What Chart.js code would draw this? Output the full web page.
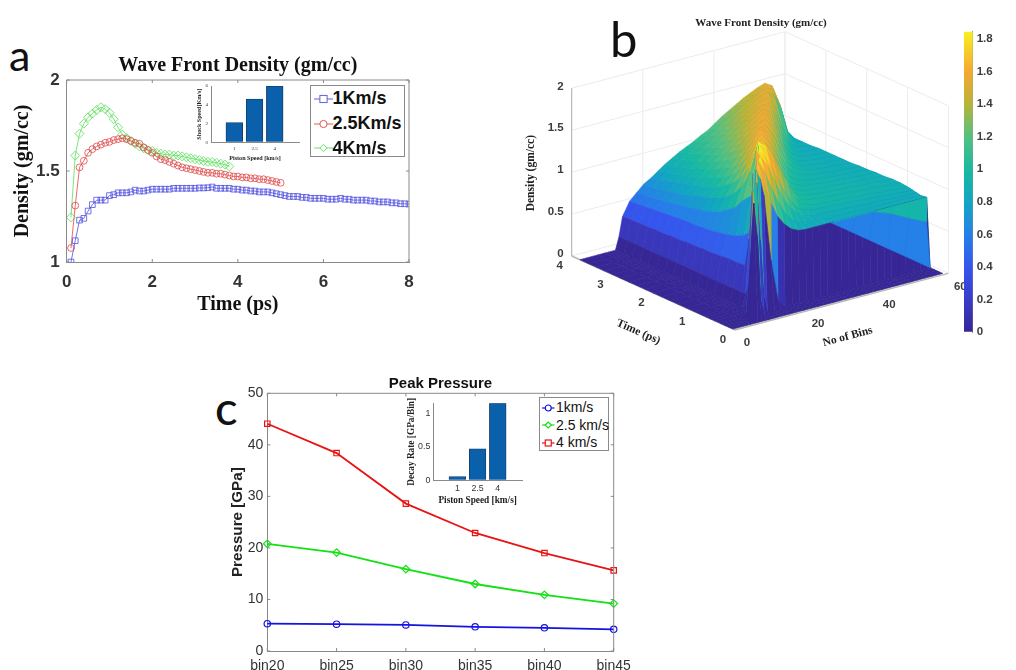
<!DOCTYPE html>
<html>
<head>
<meta charset="utf-8">
<title>Wave front density and peak pressure</title>
<script src="https://cdn.jsdelivr.net/npm/chart.js@4/dist/chart.umd.min.js"></script>
<style>
  html, body { margin: 0; padding: 0; background: #fff; }
  #page { position: relative; width: 1016px; height: 670px; overflow: hidden; }
  .box { position: absolute; }
  .box canvas { filter: blur(0.4px); }
  .letter { position: absolute; font-family: Lato, sans-serif; color: #111; line-height: 1; }
  .legend { position: absolute; background: #fff; border: 1px solid #8a8a8a; box-sizing: border-box; }
  .legend div { position: absolute; white-space: nowrap; color: #111; font-family: "Liberation Sans", sans-serif; }
  .legend svg { position: absolute; overflow: visible; }
</style>
</head>
<body>
<div id="page">
  <div class="letter" style="left:9px;top:33px;font-size:43px">a</div>
  <div class="letter" style="left:610px;top:14px;font-size:49px">b</div>
  <div class="letter" style="left:215px;top:384px;font-size:47px;font-weight:500">c</div>

  <div class="box" style="left:0;top:45px"><canvas id="chartA" width="430" height="285"></canvas></div>
  <div class="legend" id="legendA" style="left:310px;top:85px;width:95px;height:72px"></div>
  <div class="box" style="left:180px;top:80px"><canvas id="insetA" width="130" height="90"></canvas></div>

  <div class="box" style="left:510px;top:0"><canvas id="surface" width="470" height="370"></canvas></div>
  <div class="box" style="left:950px;top:20px"><canvas id="colorbar" width="66" height="325"></canvas></div>

  <div class="box" style="left:200px;top:370px"><canvas id="chartC" width="450" height="300"></canvas></div>
  <div class="legend" id="legendC" style="left:539px;top:397px;width:70px;height:54px"></div>
  <div class="box" style="left:395px;top:395px"><canvas id="insetC" width="140" height="115"></canvas></div>
</div>

<script>
// panel a
const timeA = [0.1,0.2,0.3,0.4,0.5,0.6,0.7,0.8,0.9,1.0,1.1,1.2,1.3,1.4,1.5,1.6,1.7,1.8,1.9,2.0,
  2.1,2.2,2.3,2.4,2.5,2.6,2.7,2.8,2.9,3.0,3.1,3.2,3.3,3.4,3.5,3.6,3.7,3.8,3.9,4.0,
  4.1,4.2,4.3,4.4,4.5,4.6,4.7,4.8,4.9,5.0,5.1,5.2,5.3,5.4,5.5,5.6,5.7,5.8,5.9,6.0,
  6.1,6.2,6.3,6.4,6.5,6.6,6.7,6.8,6.9,7.0,7.1,7.2,7.3,7.4,7.5,7.6,7.7,7.8,7.9,8.0]
const density1 = [1.0,1.117,1.23,1.24,1.28,1.315,1.34,1.34,1.34,1.365,1.37,1.38,1.38,1.38,1.385,1.395,1.39,1.39,1.395,1.4,
  1.4,1.4,1.4,1.4,1.405,1.405,1.405,1.405,1.405,1.405,1.407,1.407,1.408,1.412,1.405,1.405,1.405,1.405,1.4,1.4,
  1.395,1.395,1.39,1.39,1.385,1.385,1.385,1.38,1.375,1.37,1.365,1.36,1.36,1.36,1.355,1.355,1.35,1.35,1.35,1.35,
  1.345,1.345,1.345,1.35,1.345,1.345,1.34,1.34,1.34,1.34,1.335,1.335,1.33,1.33,1.33,1.325,1.325,1.32,1.32,1.318]
const density25 = [1.077,1.31,1.52,1.556,1.6,1.62,1.635,1.645,1.655,1.66,1.67,1.675,1.68,1.675,1.665,1.655,1.65,1.63,1.615,1.6,
  1.58,1.565,1.56,1.55,1.54,1.53,1.52,1.515,1.51,1.505,1.5,1.495,1.49,1.49,1.485,1.485,1.48,1.475,1.47,1.47,
  1.465,1.465,1.46,1.46,1.455,1.455,1.45,1.445,1.44,1.435]
const density4 = [1.245,1.585,1.705,1.76,1.795,1.815,1.835,1.85,1.84,1.82,1.785,1.74,1.7,1.68,1.665,1.65,1.635,1.625,1.615,1.61,
  1.6,1.595,1.59,1.59,1.585,1.585,1.58,1.575,1.57,1.565,1.56,1.555,1.55,1.55,1.545,1.54,1.535,1.525]
const shockSpeeds = ["1", "2.5", "4"]
const shockValues = [2.1, 4.6, 6]

// panel b, density per time row (back to front) and bin column
const surfaceBins = [0,5,7,8,9,10,11,12,14,16,18,20,22,24,26,28,30,32,34,36,38,40,42,44,46,48,50,52,54,56,58,59]
const surfaceTimes = [3.8,3.6,3.4,3.2,3.0,2.8,2.6,2.4,2.2,2.0,1.8,1.6,1.4,1.2,1.0,0.8,0.7,0.6,0.5,0.36,0.34,0.25,0.15,0.05]
const surfaceDensity = [
  [0,0,0,0,0,0,.15,.38,.54,.62,.70,.75,.81,.87,.92,.97,1.01,1.05,1.10,1.14,1.20,1.26,1.31,1.36,1.41,1.45,1.49,1.52,1.47,1.15,.83,0],
  [0,0,0,0,0,0,.15,.385,.55,.63,.70,.77,.84,.89,.95,1.0,1.05,1.09,1.14,1.19,1.24,1.29,1.34,1.39,1.43,1.48,1.52,1.50,1.28,.95,.84,0],
  [0,0,0,0,0,0,.15,.39,.56,.64,.72,.80,.87,.92,.98,1.04,1.08,1.13,1.19,1.24,1.29,1.35,1.40,1.45,1.50,1.54,1.50,1.30,.98,.86,.84,0],
  [0,0,0,0,0,0,.15,.39,.57,.66,.74,.83,.89,.95,1.01,1.07,1.13,1.18,1.24,1.30,1.36,1.41,1.47,1.52,1.55,1.42,1.15,.94,.87,.85,.84,0],
  [0,0,0,0,0,0,.15,.40,.58,.68,.77,.86,.92,1.0,1.05,1.11,1.17,1.24,1.30,1.36,1.42,1.48,1.54,1.54,1.38,1.12,.95,.88,.86,.85,.85,0],
  [0,0,0,0,0,0,.15,.40,.59,.70,.79,.89,.95,1.03,1.09,1.16,1.23,1.30,1.36,1.43,1.50,1.56,1.52,1.32,1.08,.95,.89,.87,.86,.85,.85,0],
  [0,0,0,0,0,0,.15,.41,.60,.72,.83,.92,1.0,1.07,1.15,1.23,1.30,1.37,1.45,1.52,1.58,1.50,1.28,1.06,.95,.90,.88,.87,.86,.86,.85,0],
  [0,0,0,0,0,0,.15,.41,.61,.74,.86,.95,1.04,1.13,1.21,1.29,1.37,1.45,1.53,1.58,1.48,1.28,1.08,.97,.91,.89,.88,.87,.86,.86,.85,0],
  [0,0,0,0,0,0,.15,.42,.61,.76,.89,.99,1.09,1.18,1.28,1.37,1.47,1.55,1.57,1.45,1.25,1.07,.98,.93,.9,.89,.88,.87,.87,.86,.85,0],
  [0,0,0,0,0,0,.15,.42,.62,.79,.93,1.06,1.16,1.27,1.38,1.49,1.6,1.56,1.4,1.2,1.05,.98,.94,.91,.9,.89,.88,.87,.87,.86,.86,0],
  [0,0,0,0,0,0,.15,.43,.63,.83,.99,1.13,1.26,1.39,1.52,1.62,1.54,1.38,1.18,1.03,.97,.94,.92,.91,.9,.89,.88,.88,.87,.87,.86,0],
  [0,0,0,0,0,0,.15,.43,.65,.9,1.07,1.24,1.40,1.56,1.63,1.52,1.35,1.15,1.02,.97,.94,.93,.92,.91,.9,.9,.89,.88,.88,.87,.87,0],
  [0,0,0,0,0,0,.15,.44,.67,.97,1.2,1.4,1.61,1.64,1.5,1.32,1.14,1.02,.97,.95,.94,.93,.92,.92,.91,.9,.9,.89,.88,.88,.87,0],
  [0,0,0,0,0,0,.15,.45,.7,1.1,1.42,1.74,1.68,1.52,1.36,1.18,1.05,.98,.96,.95,.94,.93,.93,.92,.92,.91,.9,.9,.89,.88,.88,0],
  [0,0,0,0,0,0,.15,.45,.75,1.2,1.82,1.75,1.6,1.42,1.25,1.1,1.0,.97,.96,.95,.94,.94,.93,.93,.92,.91,.91,.9,.89,.88,.88,0],
  [0,0,0,0,0,0,.15,.46,.85,1.85,1.78,1.62,1.45,1.28,1.12,1.02,.98,.96,.95,.95,.94,.94,.93,.92,.92,.91,.9,.9,.89,.88,.87,0],
  [0,0,0,0,0,0,.15,.8,1.83,1.75,1.6,1.42,1.25,1.1,1.0,.96,.94,.94,.93,.93,.92,.92,.91,.9,.9,.89,.88,.87,.87,.86,.86,0],
  [0,0,0,0,0,.05,.3,1.6,1.78,1.65,1.45,1.25,1.1,1.0,.93,.91,.9,.9,.9,.89,.89,.88,.88,.87,.87,.87,.86,.86,.85,.85,.85,0],
  [0,0,0,0,0,.1,1.2,1.79,1.62,1.4,1.2,1.05,.95,.9,.87,.87,.87,.86,.86,.86,.86,.86,.85,.85,.85,.85,.85,.85,.85,.84,.84,0],
  [0,0,0,0,.9,1.72,1.65,1.55,1.3,1.1,.98,.9,.86,.85,.85,.85,.85,.85,.85,.85,.85,.85,.85,.85,.85,.85,.85,.85,.85,.85,.85,0],
  [0,0,0,0,.8,1.7,1.6,1.4,.6,.1,0,0,0,0,0,0,0,0,0,0,0,0,0,0,0,0,0,0,0,0,0,0],
  [0,0,.1,1.5,1.6,.9,.2,0,0,0,0,0,0,0,0,0,0,0,0,0,0,0,0,0,0,0,0,0,0,0,0,0],
  [0,0,1.4,1.0,.2,0,0,0,0,0,0,0,0,0,0,0,0,0,0,0,0,0,0,0,0,0,0,0,0,0,0,0],
  [0,0,0,0,0,0,0,0,0,0,0,0,0,0,0,0,0,0,0,0,0,0,0,0,0,0,0,0,0,0,0,0]
]
// end wall on the right of the surface, painted just after the step row
const wallAfterRow = 20
const wallBins = [58,53,48,43,38,34,32]
const wallBaseTimes = [0.36,0.97,1.4,1.84,2.28,2.62,2.8]
const wallMidDensity = [.56,.66,.77,.85,.85,.85,.85]
const wallEdgeTime = 0.36
const wallTopDensity = 0.85
const wallLowerValue = 0.6
const wallUpperValue = 0.95

const surfaceTimeTicks = [0,1,2,3,4]
const surfaceBinTicks = [0,20,40,60]
const surfaceDensityTicks = [0,0.5,1,1.5,2]
const colorbarMax = 1.845

// panel c
const binLabels = ["bin20","bin25","bin30","bin35","bin40","bin45"]
const pressure1 = [5.3,5.2,5.05,4.7,4.5,4.2]
const pressure25 = [20.8,19.1,15.9,13.0,10.9,9.2]
const pressure4 = [44.1,38.4,28.6,22.9,19.0,15.65]
const decaySpeeds = ["1", "2.5", "4"]
const decayValues = [0.055, 0.47, 1.15]

const legendRowsA = [
  { text: "1Km/s", color: "#5050e0", shape: "square" },
  { text: "2.5Km/s", color: "#e04848", shape: "circle" },
  { text: "4Km/s", color: "#58e058", shape: "diamond" }
]
const legendRowsC = [
  { text: "1km/s", color: "#1414e0", shape: "circle" },
  { text: "2.5 km/s", color: "#14e014", shape: "diamond" },
  { text: "4 km/s", color: "#e81414", shape: "square" }
]

Chart.defaults.animation = false
Chart.defaults.responsive = false
Chart.defaults.events = []
Chart.defaults.plugins.legend.display = false
Chart.defaults.plugins.tooltip.enabled = false

const SERIF = "'Liberation Serif', serif"
const SANS = "'Liberation Sans', sans-serif"
const GREY = "#8a8a8a"

// top and right edges of the box, plus short inner ticks
const boxFrame = {
  id: "boxFrame",
  afterDraw(chart, args, opts) {
    if (!opts.on) return
    const { ctx, chartArea: a, scales } = chart
    ctx.save()
    ctx.strokeStyle = GREY
    ctx.lineWidth = 1
    ctx.beginPath()
    ctx.moveTo(a.left, a.top); ctx.lineTo(a.right, a.top); ctx.lineTo(a.right, a.bottom)
    scales.x.ticks.forEach((t, i) => {
      const x = scales.x.getPixelForTick(i)
      ctx.moveTo(x, a.bottom); ctx.lineTo(x, a.bottom - 3)
      ctx.moveTo(x, a.top); ctx.lineTo(x, a.top + 3)
    })
    scales.y.ticks.forEach((t, i) => {
      const y = scales.y.getPixelForTick(i)
      ctx.moveTo(a.left, y); ctx.lineTo(a.left + 3, y)
      ctx.moveTo(a.right, y); ctx.lineTo(a.right - 3, y)
    })
    ctx.stroke()
    ctx.restore()
  }
}
Chart.register(boxFrame)

function toPoints(xs, ys) {
  return ys.map((y, i) => ({ x: xs[i], y: y }))
}

// ---- panel a ----
function seriesA(values, color, style, radius) {
  return { data: toPoints(timeA, values), borderColor: color, borderWidth: 0.8, backgroundColor: "transparent",
    pointStyle: style, pointRadius: radius, pointBorderColor: color, pointBorderWidth: 0.8, pointBackgroundColor: "transparent" }
}
new Chart(document.getElementById("chartA"), {
  type: "line",
  data: { datasets: [
    seriesA(density1, "#5050e0", "rect", 4),
    seriesA(density25, "#e04848", "circle", 3.4),
    seriesA(density4, "#58e058", "rectRot", 4.5)
  ] },
  options: {
    layout: { padding: { right: 21 } },
    plugins: {
      boxFrame: { on: true },
      title: { display: true, fullSize: false, text: "Wave Front Density (gm/cc)", color: "#111",
        font: { family: SERIF, size: 20, weight: "bold" }, padding: { top: 9, bottom: 2 } }
    },
    scales: {
      x: { type: "linear", min: 0, max: 8, afterFit: s => { s.height = 68 },
        border: { color: GREY }, grid: { drawOnChartArea: false, drawTicks: false },
        ticks: { stepSize: 2, maxRotation: 0, padding: 10, color: "#333", font: { family: SANS, size: 17, weight: "bold" } },
        title: { display: true, text: "Time (ps)", color: "#111", font: { family: SERIF, size: 20, weight: "bold" }, padding: { top: 0, bottom: 13 } } },
      y: { type: "linear", min: 1, max: 2, afterFit: s => { s.width = 66.7 },
        border: { color: GREY }, grid: { drawOnChartArea: false, drawTicks: false },
        ticks: { stepSize: 0.5, padding: 7, color: "#333", font: { family: SANS, size: 17, weight: "bold" }, callback: v => String(v) },
        title: { display: true, text: "Density (gm/cc)", color: "#111", font: { family: SERIF, size: 20, weight: "bold" }, padding: { top: 11, bottom: 0 } } }
    }
  }
})

function insetBars(id, names, values, o) {
  new Chart(document.getElementById(id), {
    type: "bar",
    data: { datasets: [{ data: values.map((v, i) => ({ x: i, y: v })), backgroundColor: "#0b60ab", borderColor: "#17385c",
      borderWidth: 0.8, barThickness: 16.7 }] },
    options: {
      layout: { padding: { right: o.right } },
      scales: {
        x: { type: "linear", offset: false, min: o.xMin, max: o.xMax, afterFit: s => { s.height = o.bottom },
          afterBuildTicks: s => { s.ticks = names.map((n, i) => ({ value: i })) },
          border: { color: GREY }, grid: { drawOnChartArea: false, drawTicks: false },
          ticks: { maxRotation: 0, padding: o.tickPad, color: "#333", font: { family: o.tickFamily, size: o.tickSize }, callback: v => names[v] },
          title: { display: true, text: "Piston Speed [km/s]", color: "#222", font: { family: SERIF, size: o.titleSize, weight: "bold" }, padding: { top: 0, bottom: o.titleBottom } } },
        y: { type: "linear", min: 0, max: o.yMax, afterFit: s => { s.width = o.left },
          border: { color: GREY }, grid: { drawOnChartArea: false, drawTicks: false },
          ticks: { stepSize: o.yStep, includeBounds: false, padding: 3, color: "#333", font: { family: o.tickFamily, size: o.tickSize }, callback: v => String(v) },
          title: { display: true, text: o.yTitle, color: "#222", font: { family: SERIF, size: o.titleSize, weight: "bold" }, padding: { top: o.titleLeft, bottom: 0 } } }
      }
    }
  })
}
insetBars("insetA", shockSpeeds, shockValues, { left: 31, right: 11, bottom: 27.7, xMin: -1.153, xMax: 3.2, yMax: 6, yStep: 2,
  tickSize: 5, tickPad: 3, tickFamily: SERIF, titleSize: 6.1, titleBottom: 8, titleLeft: 16, yTitle: "Shock Speed[Km/s]" })

// ---- panel b ----
const densityStops = [
  [0, [54,38,150]], [0.2, [58,60,200]], [0.4, [53,86,238]], [0.6, [37,128,232]], [0.8, [17,166,195]],
  [1.0, [24,186,160]], [1.2, [85,192,128]], [1.4, [184,180,56]], [1.6, [245,168,50]], [1.845, [248,240,32]]
]
function densityColor(v) {
  let i = 0
  while (i < densityStops.length - 2 && v > densityStops[i + 1][0]) i++
  const [a, ca] = densityStops[i], [b, cb] = densityStops[i + 1]
  const k = Math.max(0, Math.min(1, (v - a) / (b - a)))
  return "rgb(" + ca.map((c, j) => Math.round(c + (cb[j] - c) * k)).join(",") + ")"
}

// view of the box, chart units per bin / per ps / per gm/cc
function project(bin, time, dens) {
  return { x: 225 + bin * 3.556 - time * 40.83, y: 330 - bin * 0.944 - time * 18.5 - dens * 83.83 }
}

function addLine(list, corners, color, width) {
  list.push({ data: corners.map(p => project(p[0], p[1], p[2])), borderColor: color, borderWidth: width,
    fill: false, showLine: true, pointRadius: 0, clip: false, tension: 0 })
}
function addQuad(list, corners, value) {
  const c = densityColor(value)
  const pts = corners.concat([corners[0]]).map(p => project(p[0], p[1], p[2]))
  list.push({ data: pts, backgroundColor: c, borderColor: c, borderWidth: 0.6,
    fill: "shape", showLine: true, pointRadius: 0, clip: false, tension: 0 })
}

const layers = []
// box walls
const wallGrey = "#ececec"
surfaceDensityTicks.forEach(z => {
  addLine(layers, [[0,4,z],[60,4,z],[60,0,z]], wallGrey, 1)
})
surfaceBinTicks.forEach(b => addLine(layers, [[b,4,0],[b,4,2]], wallGrey, 1))
surfaceTimeTicks.forEach(t => addLine(layers, [[60,t,0],[60,t,2]], wallGrey, 1))
addLine(layers, [[0,4,0],[0,4,2]], "#b0b0b0", 1)
addLine(layers, [[0,4,0],[0,0,0],[60,0,0]], "#b8b8b0", 1.4)

// surface, back row first, far bins first in each row; a cell takes the colour of its lowest time and bin corner
for (let r = 0; r < surfaceTimes.length - 1; r++) {
  const far = surfaceDensity[r], near = surfaceDensity[r + 1]
  for (let c = surfaceBins.length - 2; c >= 0; c--) {
    addQuad(layers, [
      [surfaceBins[c], surfaceTimes[r], far[c]],
      [surfaceBins[c + 1], surfaceTimes[r], far[c + 1]],
      [surfaceBins[c + 1], surfaceTimes[r + 1], near[c + 1]],
      [surfaceBins[c], surfaceTimes[r + 1], near[c]]
    ], near[c])
  }
  addLine(layers, surfaceBins.map((b, i) => [b, surfaceTimes[r + 1], near[i]]), "rgba(25,45,70,0.25)", 0.7)
  if (r + 1 === wallAfterRow) {
    for (let i = 0; i < wallBins.length - 1; i++) {
      addQuad(layers, [[59,wallBaseTimes[i],0],[59,wallBaseTimes[i+1],0],[wallBins[i+1],wallEdgeTime,wallMidDensity[i+1]],[wallBins[i],wallEdgeTime,wallMidDensity[i]]], wallLowerValue)
      addQuad(layers, [[wallBins[i],wallEdgeTime,wallMidDensity[i]],[wallBins[i+1],wallEdgeTime,wallMidDensity[i+1]],[wallBins[i+1],wallEdgeTime,wallTopDensity],[wallBins[i],wallEdgeTime,wallTopDensity]], wallUpperValue)
    }
  }
}

// labels for the box, placed from the same projection
const surfaceLabels = {
  id: "surfaceLabels",
  afterDraw(chart) {
    const { ctx, scales } = chart
    function put(text, p, dx, dy, font, color, angle, align) {
      const q = project(p[0], p[1], p[2])
      ctx.save()
      ctx.translate(scales.x.getPixelForValue(q.x) + dx, scales.y.getPixelForValue(q.y) + dy)
      ctx.rotate((angle || 0) * Math.PI / 180)
      ctx.font = font
      ctx.fillStyle = color
      ctx.textAlign = align || "center"
      ctx.textBaseline = "middle"
      ctx.fillText(text, 0, 0)
      ctx.restore()
    }
    const tickFont = "bold 11.5px " + SANS
    const titleFont = "bold 11.5px " + SERIF
    surfaceDensityTicks.forEach(z => put(String(z), [0,4,z], -8, -2, tickFont, "#3c3c3c", 0, "right"))
    surfaceTimeTicks.forEach(t => put(String(t), [0,t,0], -12, 10, tickFont, "#3c3c3c"))
    surfaceBinTicks.forEach(b => put(String(b), [b,0,0], 12, 13, tickFont, "#3c3c3c"))
    put("Density (gm/cc)", [0,4,1], -41, 1, titleFont, "#222", -90)
    put("Time (ps)", [0,2,0], -15, 39, titleFont, "#222", 24)
    put("No of Bins", [30,0,0], 6, 35, titleFont, "#222", -15)
    put("Wave Front Density (gm/cc)", [60,4,2], -24, -9, "bold 11px " + SERIF, "#222", 0)
  }
}

new Chart(document.getElementById("surface"), {
  type: "scatter",
  data: { datasets: layers.slice().reverse() },
  options: {
    scales: {
      x: { type: "linear", min: 0, max: 470, display: false },
      y: { type: "linear", min: 0, max: 370, reverse: true, display: false }
    }
  },
  plugins: [surfaceLabels]
})

new Chart(document.getElementById("colorbar"), {
  type: "bar",
  data: { labels: ["density"], datasets: [{ data: [colorbarMax], barPercentage: 1, categoryPercentage: 1, borderWidth: 0,
    backgroundColor: ctx => {
      const area = ctx.chart.chartArea
      if (!area) return "#14b8aa"
      const g = ctx.chart.ctx.createLinearGradient(0, area.bottom, 0, area.top)
      densityStops.forEach(s => g.addColorStop(s[0] / colorbarMax, densityColor(s[0])))
      return g
    } }] },
  options: {
    layout: { padding: { left: 14, top: 11.7, bottom: 13 } },
    scales: {
      x: { display: false },
      y: { position: "right", min: 0, max: colorbarMax, afterFit: s => { s.width = 43.3 },
        border: { color: "#999" }, grid: { drawOnChartArea: false, drawTicks: false },
        ticks: { stepSize: 0.2, includeBounds: false, padding: 4, color: "#3c3c3c", font: { family: SANS, size: 11.5, weight: "bold" },
          callback: v => String(Math.round(v * 10) / 10) } }
    }
  }
})

// ---- panel c ----
function seriesC(values, color, style, radius) {
  return { data: values, borderColor: color, borderWidth: 1.8, backgroundColor: "transparent", tension: 0,
    pointStyle: style, pointRadius: radius, pointBorderColor: color, pointBorderWidth: 1.2, pointBackgroundColor: "transparent" }
}
new Chart(document.getElementById("chartC"), {
  type: "line",
  data: { labels: binLabels, datasets: [
    seriesC(pressure1, "#1414e0", "circle", 3.2),
    seriesC(pressure25, "#14e014", "rectRot", 3.8),
    seriesC(pressure4, "#e81414", "rect", 3.8)
  ] },
  options: {
    layout: { padding: { right: 36.3 } },
    plugins: {
      boxFrame: { on: true },
      title: { display: true, fullSize: false, text: "Peak Pressure", color: "#111", font: { family: SANS, size: 15, weight: "bold" }, padding: { top: 4.5, bottom: 0.8 } }
    },
    scales: {
      x: { afterFit: s => { s.height = 19 }, border: { color: GREY }, grid: { drawOnChartArea: false, drawTicks: false },
        ticks: { maxRotation: 0, padding: 7, color: "#333", font: { family: SANS, size: 14 } } },
      y: { min: 0, max: 50, afterFit: s => { s.width = 67.3 }, border: { color: GREY }, grid: { drawOnChartArea: false, drawTicks: false },
        ticks: { stepSize: 10, padding: 4, color: "#333", font: { family: SANS, size: 14 } },
        title: { display: true, text: "Pressure [GPa]", color: "#222", font: { family: SANS, size: 15.2, weight: "bold" }, padding: { top: 28.5, bottom: 0 } } }
    }
  }
})
insetBars("insetC", decaySpeeds, decayValues, { left: 38.3, right: 13, bottom: 29.7, xMin: -1.19, xMax: 3.2, yMax: 1.15, yStep: 0.5,
  tickSize: 8.8, tickPad: 3, tickFamily: SANS, titleSize: 9.3, titleBottom: 4, titleLeft: 11, yTitle: "Decay Rate [GPa/Bin]" })

// ---- legends ----
function marker(shape, color, cx, cy, r, w) {
  if (shape === "square") return '<rect x="' + (cx - r) + '" y="' + (cy - r) + '" width="' + 2 * r + '" height="' + 2 * r + '" fill="#fff" stroke="' + color + '" stroke-width="' + w + '"/>'
  if (shape === "circle") return '<circle cx="' + cx + '" cy="' + cy + '" r="' + r + '" fill="#fff" stroke="' + color + '" stroke-width="' + w + '"/>'
  return '<polygon points="' + (cx - r) + ',' + cy + ' ' + cx + ',' + (cy - r) + ' ' + (cx + r) + ',' + cy + ' ' + cx + ',' + (cy + r) + '" fill="#fff" stroke="' + color + '" stroke-width="' + w + '"/>'
}
function buildLegend(id, rows, o) {
  const box = document.getElementById(id)
  rows.forEach((row, i) => {
    const y = o.first + i * o.gap
    const svg = document.createElementNS("http://www.w3.org/2000/svg", "svg")
    svg.setAttribute("width", o.line)
    svg.setAttribute("height", 20)
    svg.style.left = o.lineX + "px"
    svg.style.top = (y - 10) + "px"
    svg.innerHTML = '<line x1="0" y1="10" x2="' + o.line + '" y2="10" stroke="' + row.color + '" stroke-width="' + o.width + '"/>' +
      marker(row.shape, row.color, o.line / 2, 10, o.radius, o.width)
    box.appendChild(svg)
    const d = document.createElement("div")
    d.textContent = row.text
    d.style.left = o.textX + "px"
    d.style.top = (y - o.size * 0.6) + "px"
    d.style.fontSize = o.size + "px"
    d.style.fontWeight = o.weight
    d.style.lineHeight = (o.size * 1.2) + "px"
    box.appendChild(d)
  })
}
buildLegend("legendA", legendRowsA, { first: 13, gap: 24.7, lineX: 3, line: 19, textX: 21.5, size: 18, weight: "bold", radius: 3.6, width: 0.9 })
buildLegend("legendC", legendRowsC, { first: 9.5, gap: 17.5, lineX: 2, line: 12.5, textX: 16, size: 14, weight: "normal", radius: 3, width: 1.2 })
</script>
</body>
</html>
